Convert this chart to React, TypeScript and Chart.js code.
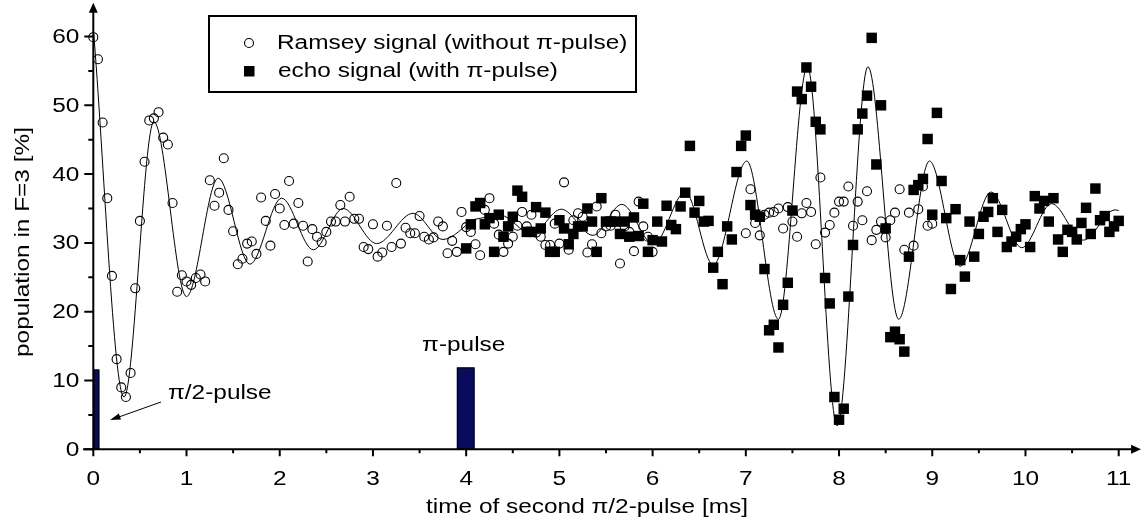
import { useEffect, useRef } from 'react';
import { Chart, registerables } from 'chart.js';

Chart.register(...registerables);

// ---- Ramsey signal (without pi-pulse) ----
const ramseyTime = [
  0.00, 0.05, 0.10, 0.15, 0.20, 0.25, 0.30, 0.35, 0.40, 0.45,
  0.50, 0.55, 0.60, 0.65, 0.70, 0.75, 0.80, 0.85, 0.90, 0.95,
  1.00, 1.05, 1.10, 1.15, 1.20, 1.25, 1.30, 1.35, 1.40, 1.45,
  1.50, 1.55, 1.60, 1.65, 1.70, 1.75, 1.80, 1.85, 1.90, 1.95,
  2.00, 2.05, 2.10, 2.15, 2.20, 2.25, 2.30, 2.35, 2.40, 2.45,
  2.50, 2.55, 2.60, 2.65, 2.70, 2.75, 2.80, 2.85, 2.90, 2.95,
  3.00, 3.05, 3.10, 3.15, 3.20, 3.25, 3.30, 3.35, 3.40, 3.45,
  3.50, 3.55, 3.60, 3.65, 3.70, 3.75, 3.80, 3.85, 3.90, 3.95,
  4.00, 4.05, 4.10, 4.15, 4.20, 4.25, 4.30, 4.35, 4.40, 4.45,
  4.50, 4.55, 4.60, 4.65, 4.70, 4.75, 4.80, 4.85, 4.90, 4.95,
  5.00, 5.05, 5.10, 5.15, 5.20, 5.25, 5.30, 5.35, 5.40, 5.45,
  5.50, 5.55, 5.60, 5.65, 5.70, 5.75, 5.80, 5.85, 5.90, 5.95,
  6.00,
  7.00, 7.05, 7.10, 7.15, 7.20, 7.25, 7.30, 7.35, 7.40, 7.45,
  7.50, 7.55, 7.60, 7.65, 7.70, 7.75, 7.80, 7.85, 7.90, 7.95,
  8.00, 8.05, 8.10, 8.15, 8.20, 8.25, 8.30, 8.35, 8.40, 8.45,
  8.50, 8.55, 8.60, 8.65, 8.70, 8.75, 8.80, 8.85, 8.90, 8.95,
  9.00,
];
const ramseyPop = [
  59.9, 56.7, 47.5, 36.5, 25.2, 13.1, 9.0, 7.6, 11.1, 23.4,
  33.2, 41.8, 47.8, 48.1, 49.0, 45.3, 44.3, 35.8, 22.9, 25.3,
  24.4, 23.9, 24.9, 25.4, 24.4, 39.1, 35.4, 37.3, 42.3, 34.8,
  31.7, 26.9, 27.7, 29.9, 30.2, 28.4, 36.6, 33.2, 29.6, 37.1,
  35.0, 32.6, 39.0, 32.8, 35.8, 32.5, 27.3, 32.0, 30.9, 30.1,
  31.6, 33.1, 33.1, 35.5, 33.1, 36.7, 33.5, 33.5, 29.4, 29.1,
  32.7, 28.0, 28.6, 32.5, 29.4, 38.7, 29.9, 32.2, 31.4, 31.4,
  33.9, 30.9, 30.5, 30.8, 33.1, 32.4, 28.5, 30.3, 28.7, 34.5,
  32.3, 31.6, 29.8, 28.2, 34.8, 36.5, 32.8, 31.2, 28.7, 29.9,
  30.9, 32.5, 34.5, 32.4, 34.1, 31.5, 30.9, 29.7, 29.7, 32.8,
  29.9, 38.8, 29.0, 33.3, 34.3, 33.8, 28.6, 29.8, 35.3, 31.4,
  32.4, 32.5, 34.1, 27.0, 32.4, 31.6, 28.8, 36.0, 32.4, 30.9,
  28.7,
  31.4, 37.8, 32.9, 31.1, 34.1, 34.4, 34.5, 35.0, 32.1, 35.2,
  33.1, 30.9, 34.3, 35.8, 34.5, 29.8, 39.5, 31.5, 32.6, 34.4,
  36.0, 36.0, 38.2, 32.5, 36.0, 33.3, 37.5, 30.4, 31.9, 33.1,
  30.8, 33.3, 34.4, 37.8, 29.0, 34.4, 29.6, 34.9, 38.2, 32.5,
  32.8,
];

// ---- echo signal (with pi-pulse) ----
const echoTime = [
  4.00, 4.05, 4.10, 4.15, 4.20, 4.25, 4.30, 4.35, 4.40, 4.45,
  4.50, 4.55, 4.60, 4.65, 4.70, 4.75, 4.80, 4.85, 4.90, 4.95,
  5.00, 5.05, 5.10, 5.15, 5.20, 5.25, 5.30, 5.35, 5.40, 5.45,
  5.50, 5.55, 5.60, 5.65, 5.70, 5.75, 5.80, 5.85, 5.90, 5.95,
  6.00, 6.05, 6.10, 6.15, 6.20, 6.25, 6.30, 6.35, 6.40, 6.45,
  6.50, 6.55, 6.60, 6.65, 6.70, 6.75, 6.80, 6.85, 6.90, 6.95,
  7.00, 7.05, 7.10, 7.15, 7.20, 7.25, 7.30, 7.35, 7.40, 7.45,
  7.50, 7.55, 7.60, 7.65, 7.70, 7.75, 7.80, 7.85, 7.90, 7.95,
  8.00, 8.05, 8.10, 8.15, 8.20, 8.25, 8.30, 8.35, 8.40, 8.45,
  8.50, 8.55, 8.60, 8.65, 8.70, 8.75, 8.80, 8.85, 8.90, 8.95,
  9.00, 9.05, 9.10, 9.15, 9.20, 9.25, 9.30, 9.35, 9.40, 9.45,
  9.50, 9.55, 9.60, 9.65, 9.70, 9.75, 9.80, 9.85, 9.90, 9.95,
  10.00, 10.05, 10.10, 10.15, 10.20, 10.25, 10.30, 10.35, 10.40, 10.45,
  10.50, 10.55, 10.60, 10.65, 10.70, 10.75, 10.80, 10.85, 10.90, 10.95,
  11.00,
];
const echoPop = [
  29.2, 32.7, 35.3, 35.8, 32.7, 33.6, 28.7, 34.1, 30.9, 32.4,
  33.8, 37.6, 36.7, 31.6, 31.6, 35.2, 32.1, 34.4, 28.7, 28.7,
  33.3, 32.1, 29.8, 31.3, 32.4, 32.4, 35.0, 33.1, 28.7, 36.5,
  33.1, 33.1, 33.1, 31.3, 33.1, 30.9, 33.7, 31.0, 35.7, 28.7,
  30.4, 33.1, 30.2, 35.4, 32.6, 32.0, 35.3, 37.3, 44.1, 34.4,
  36.1, 33.1, 33.2, 26.4, 28.7, 24.0, 32.4, 30.5, 40.3, 44.1,
  45.6, 35.5, 34.1, 33.8, 26.2, 17.3, 18.1, 14.8, 21.0, 24.2,
  34.7, 52.0, 50.9, 55.5, 52.7, 47.6, 46.5, 24.9, 21.2, 7.6,
  4.3, 5.9, 22.2, 29.7, 46.5, 48.8, 51.4, 59.8, 41.4, 50.0,
  32.1, 16.3, 17.1, 16.0, 14.2, 28.0, 37.7, 38.4, 39.3, 45.1,
  34.1, 48.9, 39.0, 33.6, 23.3, 34.9, 27.5, 25.1, 33.1, 28.0,
  31.3, 33.8, 34.5, 36.5, 31.6, 34.8, 29.4, 30.2, 30.9, 32.0,
  32.7, 29.4, 36.8, 35.0, 36.1, 33.1, 36.5, 30.5, 28.7, 31.9,
  31.6, 30.5, 32.9, 35.1, 31.3, 37.9, 33.3, 33.9, 31.6, 32.4,
  33.2,
];

// ---- fitted curves: turning points of the damped oscillations ----
const ramseyFitTime = [0.0, 0.33, 0.65, 1.0, 1.34, 1.68, 2.02, 2.36, 2.68, 3.04, 3.43, 3.75, 4.08];
const ramseyFitPop = [61.2, 7.6, 47.6, 22.2, 39.4, 26.9, 36.5, 29.0, 35.0, 29.9, 34.3, 30.5, 33.4];
const echoFitTime = [
  4.08, 4.37, 4.70, 5.02, 5.36, 5.67, 6.01, 6.35, 6.65, 7.01, 7.35, 7.66,
  7.98, 8.31, 8.64, 8.97, 9.30, 9.63, 9.96, 10.28, 10.62, 10.96, 11.0,
];
const echoFitPop = [
  33.4, 34.0, 31.3, 34.9, 31.1, 35.6, 29.8, 37.4, 26.8, 41.9, 18.9, 55.6,
  3.4, 55.6, 18.9, 41.9, 26.6, 37.4, 29.3, 35.7, 30.4, 34.8, 34.7,
];

// ---- microwave pulses ----
const pulseNames = ['\u03c0/2-pulse', '\u03c0-pulse'];
const pulseStart = [0.0, 3.9];
const pulseEnd = [0.065, 4.09];
const pulseHeight = [11.6, 11.9];

// ---- axes ----
const xTicks = [0, 1, 2, 3, 4, 5, 6, 7, 8, 9, 10, 11];
const xMinorTicks = [0.5, 1.5, 2.5, 3.5, 4.5, 5.5, 6.5, 7.5, 8.5, 9.5, 10.5];
const yTicks = [0, 10, 20, 30, 40, 50, 60];
const yMinorTicks = [5, 15, 25, 35, 45, 55];
const xTitle = 'time of second \u03c0/2-pulse [ms]';
const yTitle = 'population in F=3 [%]';
const legendLabels = ['Ramsey signal (without \u03c0-pulse)', 'echo signal (with \u03c0-pulse)'];

const W = 1141;
const H = 527;
const FONT = '"Liberation Sans", Arial, Helvetica, sans-serif';
const STRETCH = 1.22;

function drawText(
  ctx: CanvasRenderingContext2D,
  s: string,
  x: number,
  y: number,
  align: CanvasTextAlign,
  rot = 0,
  size = 20,
) {
  ctx.save();
  ctx.translate(x, y);
  if (rot) ctx.rotate(rot);
  ctx.scale(STRETCH, 1);
  ctx.font = `${size}px ${FONT}`;
  ctx.textAlign = align;
  ctx.textBaseline = 'middle';
  ctx.fillStyle = '#000';
  ctx.fillText(s, 0, 0);
  ctx.restore();
}

const toPoints = (xs: number[], ys: number[]) => xs.map((x, i) => ({ x, y: ys[i] }));

const frame = {
  id: 'frame',
  beforeDatasetsDraw(chart: any) {
    const ctx: CanvasRenderingContext2D = chart.ctx;
    const xs = chart.scales.x;
    const ys = chart.scales.y;
    const x0 = xs.getPixelForValue(0);
    const y0 = ys.getPixelForValue(0);
    ctx.save();

    // pulses
    for (let i = 0; i < pulseStart.length; i++) {
      const l = xs.getPixelForValue(pulseStart[i]);
      const r = xs.getPixelForValue(pulseEnd[i]);
      const t = ys.getPixelForValue(pulseHeight[i]);
      ctx.fillStyle = '#0b0b5e';
      ctx.fillRect(l, t, r - l, y0 - t);
      ctx.strokeStyle = '#000';
      ctx.lineWidth = 1;
      ctx.strokeRect(l + 0.5, t + 0.5, r - l - 1, y0 - t - 1);
    }

    ctx.strokeStyle = '#000';
    ctx.fillStyle = '#000';
    ctx.lineWidth = 2;

    // x axis with arrow
    const xLeft = xs.getPixelForValue(-0.11);
    const xTip = xs.getPixelForValue(11.24);
    ctx.beginPath();
    ctx.moveTo(xLeft, y0);
    ctx.lineTo(xTip - 8, y0);
    ctx.stroke();
    ctx.beginPath();
    ctx.moveTo(xTip, y0);
    ctx.lineTo(xTip - 10, y0 - 4.5);
    ctx.lineTo(xTip - 10, y0 + 4.5);
    ctx.closePath();
    ctx.fill();

    // y axis with arrow
    const yTip = ys.getPixelForValue(64.9);
    ctx.beginPath();
    ctx.moveTo(x0, y0);
    ctx.lineTo(x0, yTip + 8);
    ctx.stroke();
    ctx.beginPath();
    ctx.moveTo(x0, yTip);
    ctx.lineTo(x0 - 4.5, yTip + 10);
    ctx.lineTo(x0 + 4.5, yTip + 10);
    ctx.closePath();
    ctx.fill();

    // ticks
    ctx.beginPath();
    xTicks.forEach((v) => {
      const p = xs.getPixelForValue(v);
      ctx.moveTo(p, y0);
      ctx.lineTo(p, y0 + 7);
    });
    xMinorTicks.forEach((v) => {
      const p = xs.getPixelForValue(v);
      ctx.moveTo(p, y0);
      ctx.lineTo(p, y0 + 4);
    });
    yTicks.forEach((v) => {
      const p = ys.getPixelForValue(v);
      ctx.moveTo(x0, p);
      ctx.lineTo(x0 - 9, p);
    });
    yMinorTicks.forEach((v) => {
      const p = ys.getPixelForValue(v);
      ctx.moveTo(x0, p);
      ctx.lineTo(x0 - 5, p);
    });
    ctx.stroke();
    ctx.restore();
  },
  afterDraw(chart: any) {
    const ctx: CanvasRenderingContext2D = chart.ctx;
    const xs = chart.scales.x;
    const ys = chart.scales.y;
    const x0 = xs.getPixelForValue(0);
    const y0 = ys.getPixelForValue(0);
    ctx.save();

    // tick labels
    xTicks.forEach((v) => drawText(ctx, String(v), xs.getPixelForValue(v), y0 + 30, 'center'));
    yTicks.forEach((v) => drawText(ctx, String(v), x0 - 14, ys.getPixelForValue(v) + 1, 'right'));

    // axis titles
    drawText(ctx, xTitle, 587, 507, 'center');
    drawText(ctx, yTitle, 23, 242, 'center', -Math.PI / 2);

    // pulse labels
    const piX = (xs.getPixelForValue(pulseStart[1]) + xs.getPixelForValue(pulseEnd[1])) / 2;
    drawText(ctx, pulseNames[1], piX - 2, ys.getPixelForValue(pulseHeight[1]) - 22, 'center');
    drawText(ctx, pulseNames[0], 168, 393, 'left');

    // arrow pointing at the pi/2 pulse
    ctx.strokeStyle = '#000';
    ctx.fillStyle = '#000';
    ctx.lineWidth = 1;
    const ax0 = 161, ay0 = 402, ax1 = 110, ay1 = 420;
    ctx.beginPath();
    ctx.moveTo(ax0, ay0);
    ctx.lineTo(ax1 + 6, ay1 - 2);
    ctx.stroke();
    const ang = Math.atan2(ay1 - ay0, ax1 - ax0);
    ctx.beginPath();
    ctx.moveTo(ax1, ay1);
    ctx.lineTo(ax1 - 11 * Math.cos(ang - 0.3), ay1 - 11 * Math.sin(ang - 0.3));
    ctx.lineTo(ax1 - 11 * Math.cos(ang + 0.3), ay1 - 11 * Math.sin(ang + 0.3));
    ctx.closePath();
    ctx.fill();

    // legend
    ctx.lineWidth = 2;
    ctx.strokeRect(209, 16, 427, 76);
    ctx.lineWidth = 1.1;
    ctx.beginPath();
    ctx.arc(249, 43, 4.5, 0, Math.PI * 2);
    ctx.stroke();
    ctx.fillRect(244, 66, 10.5, 10.5);
    drawText(ctx, legendLabels[0], 277, 43, 'left');
    drawText(ctx, legendLabels[1], 278, 71, 'left');

    ctx.restore();
  },
};

export default function App() {
  const canvasRef = useRef<HTMLCanvasElement | null>(null);

  useEffect(() => {
    const canvas = canvasRef.current;
    if (!canvas) return;
    const chart = new Chart(canvas, {
      type: 'scatter',
      data: {
        datasets: [
          {
            label: legendLabels[1],
            data: toPoints(echoTime, echoPop),
            pointStyle: 'rect',
            pointRadius: 7.4,
            pointBorderWidth: 0,
            backgroundColor: '#000',
            borderColor: '#000',
            showLine: false,
            clip: false,
          },
          {
            label: legendLabels[0],
            data: toPoints(ramseyTime, ramseyPop),
            pointStyle: 'circle',
            pointRadius: 4.5,
            pointBorderWidth: 1.1,
            backgroundColor: 'rgba(0,0,0,0)',
            borderColor: '#000',
            showLine: false,
            clip: false,
          },
          {
            label: 'Ramsey fit',
            data: toPoints(ramseyFitTime, ramseyFitPop),
            showLine: true,
            cubicInterpolationMode: 'monotone',
            pointRadius: 0,
            borderWidth: 1,
            borderColor: '#000',
            clip: false,
          },
          {
            label: 'echo fit',
            data: toPoints(echoFitTime, echoFitPop),
            showLine: true,
            cubicInterpolationMode: 'monotone',
            pointRadius: 0,
            borderWidth: 1,
            borderColor: '#000',
            clip: false,
          },
        ],
      },
      options: {
        animation: false,
        responsive: false,
        devicePixelRatio: 1,
        events: [],
        layout: { padding: { left: 93.3, right: 22.3, top: 36.5, bottom: 77.7 } },
        plugins: { legend: { display: false }, tooltip: { enabled: false } },
        scales: {
          x: { type: 'linear', min: 0, max: 11, display: false },
          y: { type: 'linear', min: 0, max: 60, display: false },
        },
      },
      plugins: [frame],
    } as any);
    return () => chart.destroy();
  }, []);

  return (
    <div style={{ position: 'fixed', left: 0, top: 0, width: W, height: H, background: '#fff' }}>
      <canvas ref={canvasRef} width={W} height={H} style={{ display: 'block', width: W, height: H }} />
    </div>
  );
}
